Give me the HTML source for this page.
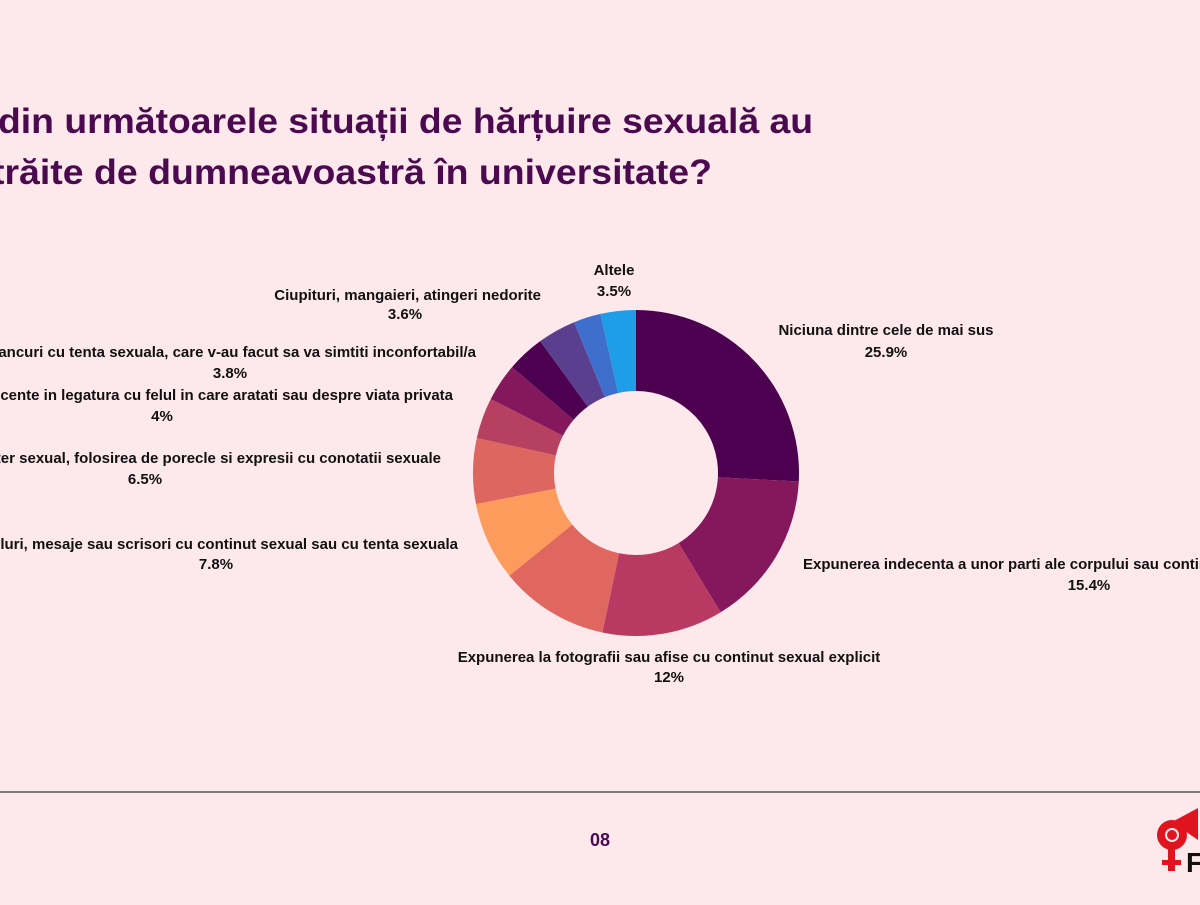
<!DOCTYPE html>
<html><head><meta charset="utf-8"><style>
body{margin:0;width:1200px;height:900px;background:#fde8ec;overflow:hidden;font-family:"Liberation Sans",sans-serif}
</style></head><body>
<svg width="1200" height="900" xmlns="http://www.w3.org/2000/svg">
<g font-family="Liberation Sans, sans-serif" font-weight="bold" fill="#4b0a50" font-size="35">
<text x="-2" y="133" textLength="815" lengthAdjust="spacingAndGlyphs">din următoarele situații de hărțuire sexuală au</text>
<text x="-8" y="184" textLength="720" lengthAdjust="spacingAndGlyphs">trăite de dumneavoastră în universitate?</text>
</g>
<g id="d"></g>
<g font-family="Liberation Sans, sans-serif" font-weight="bold" font-size="15" fill="#111">
<text x="614" y="275" text-anchor="middle">Altele</text><text x="614" y="296" text-anchor="middle">3.5%</text>
<text x="886" y="335" text-anchor="middle">Niciuna dintre cele de mai sus</text><text x="886" y="357" text-anchor="middle">25.9%</text>
<text x="803" y="569">Expunerea indecenta a unor parti ale corpului sau continut</text><text x="1089" y="590" text-anchor="middle">15.4%</text>
<text x="669" y="662" text-anchor="middle">Expunerea la fotografii sau afise cu continut sexual explicit</text><text x="669" y="682" text-anchor="middle">12%</text>
<text x="541" y="300" text-anchor="end">Ciupituri, mangaieri, atingeri nedorite</text><text x="405" y="319" text-anchor="middle">3.6%</text>
<text x="476" y="357" text-anchor="end">Glume, bancuri cu tenta sexuala, care v-au facut sa va simtiti inconfortabil/a</text><text x="230" y="378" text-anchor="middle">3.8%</text>
<text x="453" y="400" text-anchor="end">Comentarii indecente in legatura cu felul in care aratati sau despre viata privata</text><text x="162" y="421" text-anchor="middle">4%</text>
<text x="441" y="463" text-anchor="end">Remarci cu caracter sexual, folosirea de porecle si expresii cu conotatii sexuale</text><text x="145" y="484" text-anchor="middle">6.5%</text>
<text x="458" y="549" text-anchor="end">Apeluri, e-mailuri, mesaje sau scrisori cu continut sexual sau cu tenta sexuala</text><text x="216" y="569" text-anchor="middle">7.8%</text>
</g>
<line x1="0" y1="792" x2="1200" y2="792" stroke="#555" stroke-width="1.5"/>
<text x="600" y="846" text-anchor="middle" font-family="Liberation Sans, sans-serif" font-weight="bold" font-size="18" fill="#4b0a50">08</text>
<circle cx="1172" cy="835" r="15" fill="#e0141e"/>
<path d="M1172 822 L1198 808 L1198 840 Z" fill="#e0141e"/>
<circle cx="1172" cy="835" r="6" fill="none" stroke="#fde8ec" stroke-width="2"/>
<rect x="1168" y="849" width="7" height="22" fill="#e0141e"/><rect x="1162" y="860" width="19" height="5" fill="#e0141e"/>
<text x="1186" y="872" font-family="Liberation Sans, sans-serif" font-weight="bold" font-size="28" fill="#111">F</text>
</svg>
<script>
var cx=636,cy=473,R=163,r=82;
var s=[[0,93,"#4d0050"],[93,148.7,"#85185d"],[148.7,191.9,"#b83a62"],[191.9,231,"#e0675f"],[231,259,"#fc9c5c"],[259,282.4,"#de6660"],[282.4,297,"#b6405f"],[297,310.5,"#85185d"],[310.5,324,"#4d0050"],[324,337.7,"#5b3f8f"],[337.7,347.4,"#3f6fcd"],[347.4,360,"#1e9ee6"]];
function p(a,rad){a=(a-90)*Math.PI/180;return (cx+rad*Math.cos(a)).toFixed(2)+" "+(cy+rad*Math.sin(a)).toFixed(2);}
var h="";s.forEach(function(t){var l=(t[1]-t[0])>180?1:0;h+='<path fill="'+t[2]+'" d="M'+p(t[0],R)+' A'+R+' '+R+' 0 '+l+' 1 '+p(t[1],R)+' L'+p(t[1],r)+' A'+r+' '+r+' 0 '+l+' 0 '+p(t[0],r)+' Z"/>';});
document.getElementById("d").innerHTML=h;
</script>
</body></html>
